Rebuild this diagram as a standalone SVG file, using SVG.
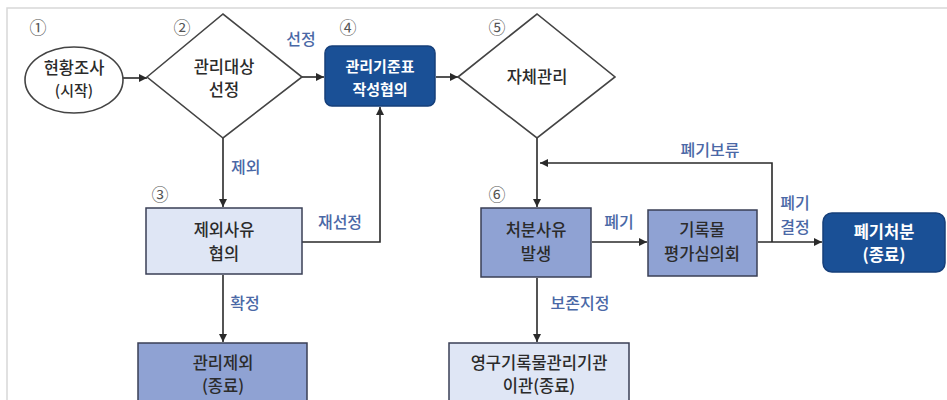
<svg xmlns="http://www.w3.org/2000/svg" width="947" height="400" viewBox="0 0 947 400">
<defs>
<style>
.t{font-family:"Noto Sans CJK KR","Noto Sans",sans-serif;font-size:16.5px;font-weight:500;fill:#2b2b2b;text-anchor:middle}
.w{fill:#ffffff;font-weight:700}
.lb{font-family:"Noto Sans CJK KR","Noto Sans",sans-serif;font-size:16px;font-weight:500;fill:#4a68a6}
.num{font-family:"Noto Sans CJK KR","DejaVu Sans",sans-serif;font-size:17px;fill:#555;text-anchor:middle}
.ln{stroke:#2a2a2a;stroke-width:1.6;fill:none}
.sh{fill:#ffffff;stroke:#444;stroke-width:1.6}
.dark{fill:#1a5096;stroke:#163f7a;stroke-width:1.5}
.mid{fill:#8fa2d3;stroke:#3a3f55;stroke-width:1.5}
.lite{fill:#dfe6f5;stroke:#3a3f55;stroke-width:1.5}
</style>
<marker id="ah" viewBox="0 0 10 10" refX="10" refY="5" markerWidth="8" markerHeight="8" markerUnits="userSpaceOnUse" orient="auto">
<path d="M0,0 L10,5 L0,10 z" fill="#2a2a2a"/>
</marker>
</defs>
<rect width="947" height="400" fill="#ffffff"/>
<path d="M7,400 V8 H947" stroke="#d8d8d8" stroke-width="1.5" fill="none"/>

<g id="connectors">
<path class="ln" d="M123,78 H147" marker-end="url(#ah)"/>
<path class="ln" d="M302,77 H324" marker-end="url(#ah)"/>
<path class="ln" d="M436,77 H458" marker-end="url(#ah)"/>
<path class="ln" d="M223,138 V207" marker-end="url(#ah)"/>
<path class="ln" d="M302,242 H380 V107" marker-end="url(#ah)"/>
<path class="ln" d="M223,275 V342" marker-end="url(#ah)"/>
<path class="ln" d="M537,138 V207" marker-end="url(#ah)"/>
<path class="ln" d="M592,242 H647" marker-end="url(#ah)"/>
<path class="ln" d="M537,278 V342" marker-end="url(#ah)"/>
<path class="ln" d="M758,242 H822" marker-end="url(#ah)"/>
<path class="ln" d="M772,242 V163 H540" marker-end="url(#ah)"/>
<text class="lb" x="301" y="45" text-anchor="middle">선정</text>
<text class="lb" x="231" y="173">제외</text>
<text class="lb" x="340" y="228" text-anchor="middle">재선정</text>
<text class="lb" x="245" y="309" text-anchor="middle">확정</text>
<text class="lb" x="580" y="309" text-anchor="middle">보존지정</text>
<text class="lb" x="619" y="228" text-anchor="middle">폐기</text>
<text class="lb" x="710" y="156" text-anchor="middle">폐기보류</text>
<text class="lb" x="795" y="209" text-anchor="middle">폐기</text>
<text class="lb" x="795" y="233" text-anchor="middle">결정</text>
</g>

<g id="n1">
<text class="num" x="38" y="34">①</text>
<ellipse class="sh" cx="74" cy="80" rx="49" ry="33"/>
<text class="t" x="74" y="74">현황조사</text>
<text class="t" x="74" y="96" style="font-size:15px">(시작)</text>
</g>

<g id="n2">
<text class="num" x="182" y="34">②</text>
<polygon class="sh" points="147,77 223,14 302,77 223,138"/>
<text class="t" x="224" y="73">관리대상</text>
<text class="t" x="224" y="96">선정</text>
</g>

<g id="n4">
<text class="num" x="348" y="34">④</text>
<rect class="dark" x="325" y="46" width="110" height="60" rx="7"/>
<text class="t w" x="380" y="72" style="font-size:15px">관리기준표</text>
<text class="t w" x="380" y="95" style="font-size:15px">작성협의</text>
</g>

<g id="n5">
<text class="num" x="497" y="34">⑤</text>
<polygon class="sh" points="458,77 537,14 615,77 537,138"/>
<text class="t" x="537" y="83">자체관리</text>
</g>

<g id="n3">
<text class="num" x="160" y="201">③</text>
<rect class="lite" x="146" y="208" width="156" height="66"/>
<text class="t" x="224" y="236">제외사유</text>
<text class="t" x="224" y="260">협의</text>
</g>

<g id="n6">
<text class="num" x="497" y="201">⑥</text>
<rect class="mid" x="481" y="208" width="110" height="69"/>
<text class="t" x="536" y="236">처분사유</text>
<text class="t" x="536" y="260">발생</text>
</g>

<g id="n7">
<rect class="mid" x="648" y="210" width="109" height="66"/>
<text class="t" x="702" y="236">기록물</text>
<text class="t" x="702" y="260">평가심의회</text>
</g>

<g id="n8">
<rect class="dark" x="823" y="213" width="122" height="59" rx="9"/>
<text class="t w" x="884" y="238">폐기처분</text>
<text class="t w" x="884" y="261">(종료)</text>
</g>

<g id="n9">
<rect class="mid" x="138" y="343" width="169" height="70"/>
<text class="t" x="223" y="369">관리제외</text>
<text class="t" x="223" y="392">(종료)</text>
</g>

<g id="n10">
<rect class="lite" x="449" y="343" width="180" height="70"/>
<text class="t" x="539" y="369">영구기록물관리기관</text>
<text class="t" x="539" y="392">이관(종료)</text>
</g>
</svg>
